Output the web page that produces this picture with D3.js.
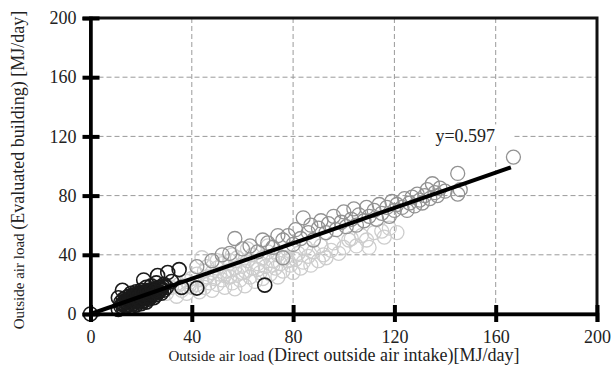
<!DOCTYPE html>
<html>
<head>
<meta charset="utf-8">
<script src="https://cdn.jsdelivr.net/npm/d3@7"></script>
<style>
  html, body { margin: 0; padding: 0; background: #fff; }
  svg { display: block; }
  text { font-family: "Liberation Serif", "Times New Roman", serif; fill: #222; }
</style>
</head>
<body>
<svg id="chart"></svg>
<script>
// Scatter: outside air load, evaluated building vs direct intake

const W = 611, H = 372;
const M = { left: 90.5, right: 14, top: 18, bottom: 58 };

const xTicks = [0, 40, 80, 120, 160, 200];
const yTicks = [0, 40, 80, 120, 160, 200];
const gridTicks = [40, 80, 120, 160];

const slope = 0.597;
const fitRange = [0, 166];
const fitLabel = "y=0.597";

// light gray series [x, y]
const lightPts = [
  [30,14],[32,18],[34,12],[35,20],[36,16],[38,22],[38,14],[40,18],[40,24],[42,20],
  [42,27],[43,15],[44,23],[45,18],[45,29],[46,25],[47,21],[48,16],[48,28],[49,24],
  [50,20],[50,31],[51,27],[52,23],[52,34],[53,18],[54,29],[55,25],[55,36],[56,21],
  [57,31],[58,27],[58,38],[59,23],[60,33],[61,29],[61,19],[62,36],[63,25],[64,31],
  [64,40],[65,22],[66,34],[67,28],[68,38],[68,24],[69,32],[70,42],[71,27],[72,36],
  [73,31],[74,40],[74,25],[75,34],[76,29],[77,38],[78,43],[79,33],[80,28],[81,37],
  [82,41],[83,31],[84,35],[85,45],[86,39],[87,33],[88,42],[90,36],[91,46],[92,40],
  [93,38],[95,43],[96,48],[98,41],[100,45],[102,50],[103,51],[105,46],[107,53],[109,50],
  [110,45],[112,55],[115,56],[116,52],[118,58],[121,55],
  [44,38],[50,36],[56,40],[62,44],[70,46],
  [46,32],[53,26],[60,28],[66,30],[72,33],[78,36],[39,19],[57,17]
];

// mid gray series [x, y]
const midPts = [
  [42,32],[48,36],[52,40],[55,41],[57,51],[60,44],[63,46],[66,42],[68,50],[70,48],
  [72,45],[74,53],[76,38],[76,50],[78,53],[80,47],[81,57],[83,51],[84,65],[86,55],
  [87,60],[88,50],[90,58],[91,63],[93,55],[94,61],[96,66],[97,57],[99,62],[100,69],
  [101,59],[103,64],[104,71],[105,60],[106,67],[108,63],[109,72],[110,66],[112,70],[113,64],
  [114,74],[115,68],[117,72],[118,66],[119,76],[120,70],[121,74],[123,72],[124,78],[125,70],
  [126,75],[127,79],[128,73],[129,81],[130,77],[131,75],[132,80],[133,84],[134,78],[135,88],
  [136,82],[137,80],[138,85],[140,83],[145,95],[146,84],[145,81],[167,106]
];

// dark series [x, y]
const darkPts = [
  [0,0],
  [11,3],[12,5],[12,8],[13,4],[13,7],[13,10],[14,5],[14,8],[14,11],[15,6],
  [15,9],[15,12],[16,5],[16,8],[16,11],[16,14],[17,7],[17,10],[17,13],[18,6],
  [18,9],[18,12],[18,15],[19,8],[19,11],[19,14],[20,7],[20,10],[20,13],[20,16],
  [21,9],[21,12],[21,15],[22,8],[22,11],[22,14],[22,18],[23,10],[23,13],[23,16],
  [24,12],[24,15],[24,19],[25,11],[25,14],[25,17],[26,13],[26,16],[26,21],[27,15],
  [27,18],[28,14],[28,17],[29,16],[29,20],[30,18],
  [12.5,6.5],[13.5,8.5],[14.5,6.5],[14.5,9.5],[15.5,7.5],[15.5,10.5],[16.5,9.5],[16.5,12.5],
  [17.5,8.5],[17.5,11.5],[18.5,10.5],[18.5,13.5],[19.5,9.5],[19.5,12.5],[20.5,11.5],[20.5,14.5],
  [21.5,10.5],[21.5,13.5],[22.5,12.5],[22.5,15.5],[23.5,11.5],[23.5,14.5],[24.5,13.5],[24.5,16.5],
  [25.5,15.5],[26.5,14.5],[27.5,16.5],[28.5,18.5],
  [21,23],[26.5,26],[30.5,28],[35,30],[32,22],[36,18],[12.6,16],[11,11],
  [42,17.5],[68.8,19.5]
];

const svg = d3.select("#chart").attr("width", W).attr("height", H);

const x = d3.scaleLinear().domain([0, 200]).range([M.left, W - M.right]);
const y = d3.scaleLinear().domain([0, 200]).range([H - M.bottom, M.top]);

// grid
const grid = svg.append("g")
    .attr("stroke", "#9a9a9a")
    .attr("stroke-width", 1)
    .attr("stroke-dasharray", "5,3");
grid.selectAll(".gx").data(gridTicks).join("line")
    .attr("x1", d => x(d)).attr("x2", d => x(d))
    .attr("y1", y(200)).attr("y2", y(0));
grid.selectAll(".gy").data(gridTicks).join("line")
    .attr("y1", d => y(d)).attr("y2", d => y(d))
    .attr("x1", x(0)).attr("x2", x(200));

// points
function drawPts(data, color, sw) {
    svg.append("g").selectAll("circle").data(data).join("circle")
        .attr("cx", d => x(d[0]))
        .attr("cy", d => y(d[1]))
        .attr("r", 7)
        .attr("fill", "none")
        .attr("stroke", color)
        .attr("stroke-width", sw);
}
drawPts(lightPts, "#cdcdcd", 1.3);
drawPts(midPts, "#929292", 1.3);
drawPts(darkPts, "#1a1a1a", 1.6);

// fit line
svg.append("line")
    .attr("x1", x(fitRange[0])).attr("y1", y(fitRange[0] * slope))
    .attr("x2", x(fitRange[1])).attr("y2", y(fitRange[1] * slope))
    .attr("stroke", "#000")
    .attr("stroke-width", 4);

// fit label with white box behind it
const lx = x(148), ly = y(120);
svg.append("rect")
    .attr("x", lx - 45).attr("y", ly - 12)
    .attr("width", 92).attr("height", 21)
    .attr("fill", "#fff");
svg.append("text")
    .attr("x", lx).attr("y", ly + 6)
    .attr("text-anchor", "middle")
    .attr("font-size", "18px")
    .text(fitLabel);

// frame
svg.append("rect")
    .attr("x", x(0)).attr("y", y(200))
    .attr("width", x(200) - x(0)).attr("height", y(0) - y(200))
    .attr("fill", "none")
    .attr("stroke", "#111")
    .attr("stroke-width", 3);

// axes
const xAxis = svg.append("g")
    .attr("transform", `translate(0,${y(0)})`)
    .call(d3.axisBottom(x).tickValues(xTicks).tickSize(8).tickPadding(8));
const yAxis = svg.append("g")
    .attr("transform", `translate(${x(0)},0)`)
    .call(d3.axisLeft(y).tickValues(yTicks).tickSize(8).tickPadding(6));

[xAxis, yAxis].forEach(a => {
    a.select(".domain").attr("stroke", "#000").attr("stroke-width", 3.5);
    a.selectAll(".tick line").attr("stroke", "#000").attr("stroke-width", 4);
    a.selectAll(".tick text")
        .attr("font-family", "Liberation Serif, Times New Roman, serif")
        .attr("font-size", "18px")
        .attr("fill", "#222");
});
// ticks cross the axis line
xAxis.selectAll(".tick line").attr("y1", -9);
yAxis.selectAll(".tick line").attr("x1", 9);

// axis titles
const xt = svg.append("text")
    .attr("x", 344).attr("y", 361)
    .attr("text-anchor", "middle");
xt.append("tspan").attr("font-size", "15px").text("Outside air load ");
xt.append("tspan").attr("font-size", "18px").text("(Direct outside air intake)[MJ/day]");

const yt = svg.append("text")
    .attr("transform", "translate(24,170) rotate(-90)")
    .attr("text-anchor", "middle");
yt.append("tspan").attr("font-size", "15px").text("Outside air load ");
yt.append("tspan").attr("font-size", "18px").text("(Evaluated building) [MJ/day]");
</script>
</body>
</html>
